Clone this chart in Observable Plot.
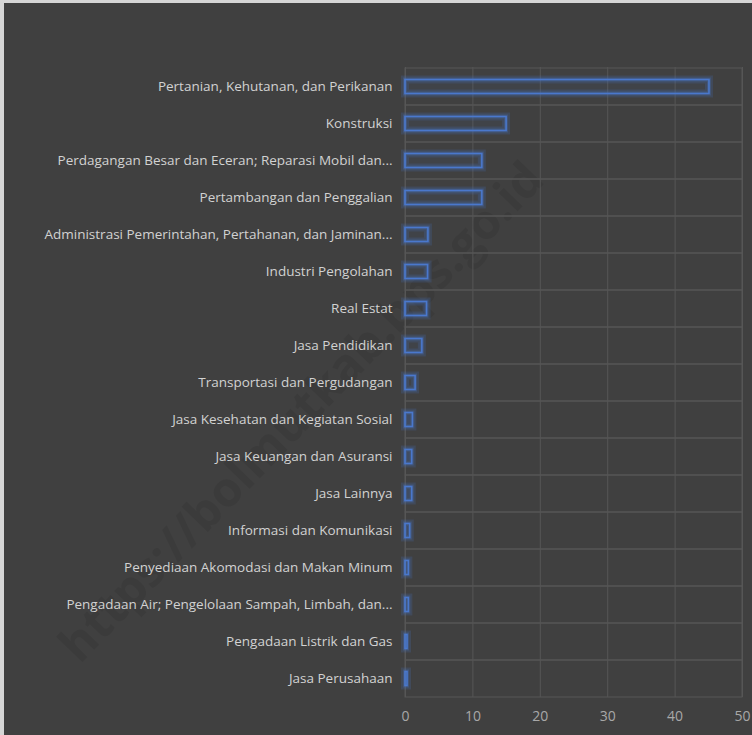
<!DOCTYPE html>
<html>
<head>
<meta charset="utf-8">
<script src="https://cdn.jsdelivr.net/npm/d3@7"></script>
<script src="https://cdn.jsdelivr.net/npm/@observablehq/plot@0.6"></script>
<style>
  html, body { margin: 0; padding: 0; background: #d6d6d6; }
  #chart { position: absolute; left: 4px; top: 3px; width: 748px; height: 732px; background: #404040; }
  #chart svg { display: block; }
</style>
</head>
<body>
<div id="chart"></div>
<script>
const categories = [
  "Pertanian, Kehutanan, dan Perikanan",
  "Konstruksi",
  "Perdagangan Besar dan Eceran; Reparasi Mobil dan...",
  "Pertambangan dan Penggalian",
  "Administrasi Pemerintahan, Pertahanan, dan Jaminan...",
  "Industri Pengolahan",
  "Real Estat",
  "Jasa Pendidikan",
  "Transportasi dan Pergudangan",
  "Jasa Kesehatan dan Kegiatan Sosial",
  "Jasa Keuangan dan Asuransi",
  "Jasa Lainnya",
  "Informasi dan Komunikasi",
  "Penyediaan Akomodasi dan Makan Minum",
  "Pengadaan Air; Pengelolaan Sampah, Limbah, dan...",
  "Pengadaan Listrik dan Gas",
  "Jasa Perusahaan"
];
const values = [45.1, 15.0, 11.4, 11.4, 3.4, 3.35, 3.2, 2.5, 1.5, 1.1, 1.0, 1.0, 0.7, 0.5, 0.5, 0.3, 0.3];
const xTicks = [0, 10, 20, 30, 40, 50];
const watermark = ["https://bolmutkab.bps.go.id"];

const data = categories.map((c, i) => ({category: c, value: values[i]}));

const chart = Plot.plot({
  width: 748,
  height: 732,
  marginLeft: 401,
  marginRight: 10,
  marginTop: 64,
  marginBottom: 38,
  style: {background: "transparent", fontFamily: "'Open Sans', sans-serif"},
  x: {domain: [0, 50], ticks: xTicks, label: null},
  y: {domain: categories, padding: 0, label: null},
  marks: [
    Plot.text(watermark, {
      text: d => d, frameAnchor: "middle", dx: -272, dy: 30, rotate: -46,
      fontSize: 48, fontWeight: "bold", fill: "#000", fillOpacity: 0.08
    }),
    Plot.barX(categories, {x1: 0, x2: 50, y: d => d, fill: "none", stroke: "#565656", strokeWidth: 1}),
    Plot.ruleX(xTicks, {stroke: "#565656", strokeWidth: 1}),
    Plot.barX(data, {x1: 0, x2: "value", y: "category", insetTop: 11.5, insetBottom: 11.5,
      fill: "none", stroke: "#4472c4", strokeOpacity: 0.2, strokeWidth: 8}),
    Plot.barX(data, {x1: 0, x2: "value", y: "category", insetTop: 11.5, insetBottom: 11.5,
      fill: "none", stroke: "#4472c4", strokeOpacity: 0.3, strokeWidth: 4}),
    Plot.barX(data, {x1: 0, x2: "value", y: "category", insetTop: 11.5, insetBottom: 11.5,
      fill: "#4472c4", fillOpacity: 0.06, stroke: "#4a78cc", strokeWidth: 1.6}),
    Plot.axisY({tickSize: 0, tickPadding: 13, fontSize: 13.5, color: "#d2d2d2"}),
    Plot.axisX({ticks: xTicks, tickSize: 0, tickPadding: 14, fontSize: 14, color: "#a8a8a8"})
  ]
});
document.getElementById("chart").appendChild(chart);
</script>
</body>
</html>
